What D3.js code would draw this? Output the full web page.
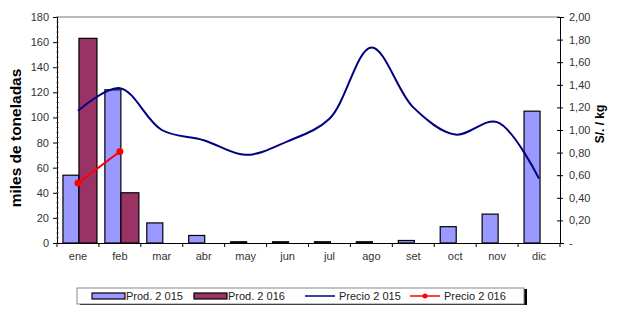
<!DOCTYPE html>
<html>
<head>
<meta charset="utf-8">
<script src="https://cdn.jsdelivr.net/npm/d3@7"></script>
<style>
  body { margin: 0; background: #fff; }
  text { font-family: "Liberation Sans", Arial, sans-serif; }
</style>
</head>
<body>
<div id="chart"></div>
<script>
// Chart data
const months = ["ene", "feb", "mar", "abr", "may", "jun", "jul", "ago", "set", "oct", "nov", "dic"];
const prod2015 = [54, 122, 16, 6, 1, 1, 1, 1, 2, 13, 23, 105];
const prod2016 = [163, 40, null, null, null, null, null, null, null, null, null, null];
const precio2015 = [1.17, 1.37, 1.0, 0.91, 0.78, 0.9, 1.1, 1.73, 1.2, 0.96, 1.07, 0.57];
const precio2016 = [0.53, 0.81];
const leftTicks = [0, 20, 40, 60, 80, 100, 120, 140, 160, 180];
const rightTicks = [0, 0.2, 0.4, 0.6, 0.8, 1.0, 1.2, 1.4, 1.6, 1.8, 2.0];

const width = 626, height = 315;
const margin = { top: 17, right: 66, bottom: 72, left: 57 };

const svg = d3.select("#chart").append("svg")
  .attr("width", width).attr("height", height);

const x = d3.scaleBand().domain(months)
  .range([margin.left, width - margin.right]);
const yL = d3.scaleLinear().domain([0, 180])
  .range([height - margin.bottom, margin.top]);
const yR = d3.scaleLinear().domain([0, 2])
  .range([height - margin.bottom, margin.top]);

const cx = m => x(m) + x.bandwidth() / 2;

// top border
svg.append("line")
  .attr("x1", margin.left).attr("x2", width - margin.right)
  .attr("y1", margin.top).attr("y2", margin.top)
  .attr("stroke", "#777").attr("stroke-width", 1);

// bars
svg.append("g").selectAll("rect")
  .data(prod2015.map((v, i) => ({ m: months[i], v })))
  .join("rect")
  .attr("x", d => cx(d.m) - 15)
  .attr("y", d => yL(d.v))
  .attr("width", 16)
  .attr("height", d => yL(0) - yL(d.v))
  .attr("fill", "#9999ff").attr("stroke", "#000").attr("stroke-width", 1.2);

svg.append("g").selectAll("rect")
  .data(prod2016.map((v, i) => ({ m: months[i], v })).filter(d => d.v != null))
  .join("rect")
  .attr("x", d => cx(d.m) + 1)
  .attr("y", d => yL(d.v))
  .attr("width", 18)
  .attr("height", d => yL(0) - yL(d.v))
  .attr("fill", "#993366").attr("stroke", "#000").attr("stroke-width", 1.2);

// left axis
const axL = svg.append("g")
  .attr("transform", `translate(${margin.left},0)`)
  .call(d3.axisLeft(yL).tickValues(leftTicks).tickSize(4).tickFormat(d3.format("d")));
axL.select(".domain").attr("stroke", "#000");
axL.selectAll("text").attr("font-size", 11).attr("fill", "#333").attr("x", -8);
// minor ticks
axL.selectAll("line.minor")
  .data(d3.range(0, 181, 4))
  .join("line").attr("class", "minor")
  .attr("x1", -1).attr("x2", 2)
  .attr("y1", d => yL(d)).attr("y2", d => yL(d))
  .attr("stroke", "#555").attr("stroke-width", 0.6);

// right axis
const axR = svg.append("g")
  .attr("transform", `translate(${width - margin.right},0)`)
  .call(d3.axisRight(yR).tickValues(rightTicks).tickSize(4)
    .tickFormat(d => d === 0 ? "-" : d3.format(".2f")(d).replace(".", ",")));
axR.select(".domain").attr("stroke", "#000");
axR.selectAll(".tick line").attr("x1", -3).attr("x2", 3);
axR.selectAll("text").attr("font-size", 11).attr("fill", "#333").attr("x", 9);

// bottom axis
const axB = svg.append("g")
  .attr("transform", `translate(0,${height - margin.bottom})`)
  .call(d3.axisBottom(x).tickSize(0).tickPadding(9));
axB.select(".domain").attr("stroke", "#000");
axB.selectAll("text").attr("font-size", 11).attr("fill", "#333");
axB.selectAll("line.sep")
  .data(d3.range(months.length + 1))
  .join("line").attr("class", "sep")
  .attr("x1", i => margin.left + i * x.step()).attr("x2", i => margin.left + i * x.step())
  .attr("y1", 0).attr("y2", 4).attr("stroke", "#000");

// precio 2015 line
const line15 = d3.line()
  .x((d, i) => cx(months[i]))
  .y(d => yR(d))
  .curve(d3.curveCatmullRom.alpha(0.5));
svg.append("path")
  .datum(precio2015)
  .attr("d", line15)
  .attr("fill", "none").attr("stroke", "#000080").attr("stroke-width", 2);

// precio 2016 line
const line16 = d3.line()
  .x((d, i) => cx(months[i]))
  .y(d => yR(d));
svg.append("path")
  .datum(precio2016)
  .attr("d", line16)
  .attr("fill", "none").attr("stroke", "#ff0000").attr("stroke-width", 2);
svg.append("g").selectAll("circle")
  .data(precio2016)
  .join("circle")
  .attr("cx", (d, i) => cx(months[i]))
  .attr("cy", d => yR(d))
  .attr("r", 3.5).attr("fill", "#ff0000");

// axis titles
svg.append("text")
  .attr("transform", "translate(21,138) rotate(-90)")
  .attr("text-anchor", "middle")
  .attr("font-size", 15.5).attr("font-weight", "bold")
  .text("miles de toneladas");
svg.append("text")
  .attr("transform", "translate(604,124) rotate(-90)")
  .attr("text-anchor", "middle")
  .attr("font-size", 12).attr("font-weight", "bold")
  .text("S/. / kg");

// legend
const lg = svg.append("g");
lg.append("rect").attr("x", 80).attr("y", 289).attr("width", 447).attr("height", 16).attr("fill", "#000");
lg.append("rect").attr("x", 77).attr("y", 288).attr("width", 447).attr("height", 16)
  .attr("fill", "#fff").attr("stroke", "#888").attr("stroke-width", 1);
const legendItems = [
  { name: "Prod. 2 015", type: "bar", color: "#9999ff", x: 92 },
  { name: "Prod. 2 016", type: "bar", color: "#993366", x: 194 },
  { name: "Precio 2 015", type: "line", color: "#000080", x: 305 },
  { name: "Precio 2 016", type: "dot", color: "#ff0000", x: 410 }
];
legendItems.forEach(d => {
  if (d.type === "bar") {
    lg.append("rect").attr("x", d.x).attr("y", 293).attr("width", 33).attr("height", 6)
      .attr("fill", d.color).attr("stroke", "#000").attr("stroke-width", 1.2);
  } else {
    lg.append("line").attr("x1", d.x).attr("x2", d.x + 30).attr("y1", 296).attr("y2", 296)
      .attr("stroke", d.color).attr("stroke-width", 1.5);
    if (d.type === "dot") lg.append("circle").attr("cx", d.x + 15).attr("cy", 296).attr("r", 2.5).attr("fill", d.color);
  }
  lg.append("text").attr("x", d.x + 34).attr("y", 300).attr("font-size", 11).attr("fill", "#222").text(d.name);
});
</script>
</body>
</html>
